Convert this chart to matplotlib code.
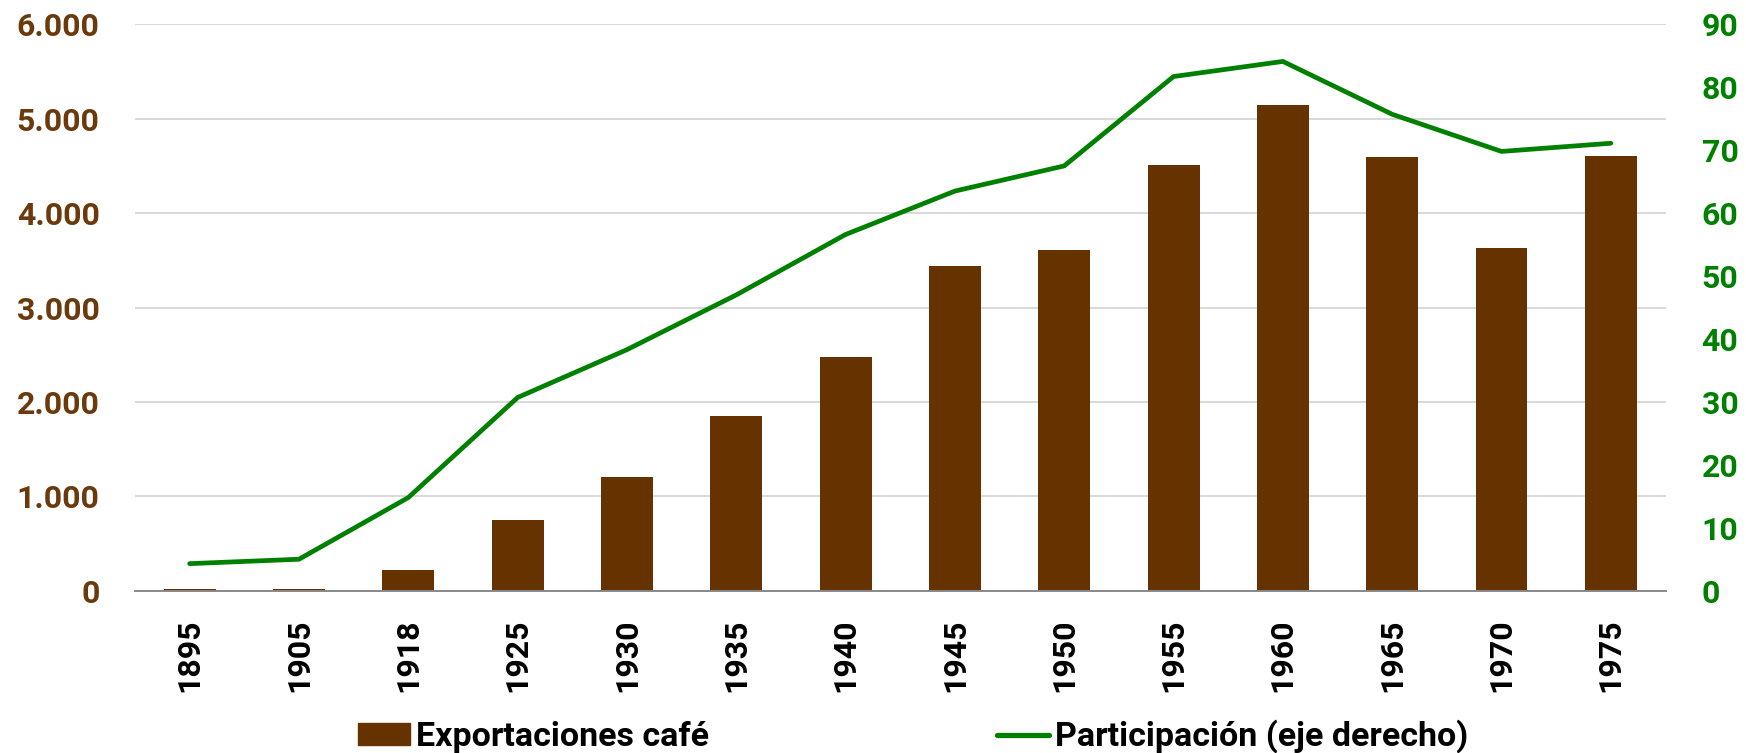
import matplotlib
matplotlib.use("Agg")
import matplotlib.pyplot as plt
from matplotlib.patches import Patch
from matplotlib.lines import Line2D
import numpy as np

plt.rcParams['font.family'] = ['Roboto', 'DejaVu Sans']
plt.rcParams['font.weight'] = 'bold'

years = ['1895', '1905', '1918', '1925', '1930', '1935', '1940', '1945',
         '1950', '1955', '1960', '1965', '1970', '1975']
exportaciones = [20, 20, 214, 752, 1205, 1855, 2473, 3435, 3608, 4509,
                 5150, 4591, 3630, 4601]
participacion = [4.3, 5.0, 14.8, 30.7, 38.3, 47.0, 56.6, 63.5, 67.5, 81.7,
                 84.1, 75.7, 69.8, 71.1]
left_ticks = [0, 1000, 2000, 3000, 4000, 5000, 6000]
left_labels = ['0', '1.000', '2.000', '3.000', '4.000', '5.000', '6.000']
right_ticks = [0, 10, 20, 30, 40, 50, 60, 70, 80, 90]

BROWN = '#663300'
GREEN = '#008000'
LABEL_BROWN = '#6b3a0c'

fig = plt.figure(figsize=(17.46, 7.53), dpi=100)
ax = fig.add_axes([135 / 1746, 1 - 590.7 / 753, (1665.5 - 135) / 1746, (590.7 - 24.3) / 753])
x = np.arange(len(years))

ax.bar(x, exportaciones, width=0.475, color=BROWN, zorder=2)
ax.set_xlim(-0.5, len(years) - 0.5)
ax.set_ylim(0, 6000)
ax.set_yticks(left_ticks)
ax.set_yticklabels(left_labels)
ax.set_xticks(x)
ax.set_xticklabels(years, rotation=90)
ax.grid(axis='y', color='#d9d9d9', linewidth=1.4, zorder=0)
ax.set_axisbelow(True)
for s in ['top', 'right', 'left']:
    ax.spines[s].set_visible(False)
ax.spines['bottom'].set_color('#898989')
ax.spines['bottom'].set_linewidth(1.4)
ax.tick_params(axis='y', length=0, pad=25.5, labelsize=23, labelcolor=LABEL_BROWN)
ax.tick_params(axis='x', length=0, pad=20, labelsize=23, labelcolor='black')
for t in ax.get_yticklabels() + ax.get_xticklabels():
    t.set_fontweight('bold')

ax2 = ax.twinx()
ax2.plot(x, participacion, color=GREEN, linewidth=3.4, solid_capstyle='round',
         solid_joinstyle='miter', zorder=3)
ax2.set_ylim(0, 90)
ax2.set_yticks(right_ticks)
for s in ['top', 'right', 'left', 'bottom']:
    ax2.spines[s].set_visible(False)
ax2.tick_params(axis='y', length=0, pad=26, labelsize=23, labelcolor=GREEN)
for t in ax2.get_yticklabels():
    t.set_fontweight('bold')

handles = [Patch(facecolor=BROWN, edgecolor=BROWN),
           Line2D([0], [0], color=GREEN, linewidth=3.8, solid_capstyle='round')]
fig.legend(handles, ['Exportaciones café', 'Participación (eje derecho)'],
           loc='center', bbox_to_anchor=(0.523, 0.022), ncol=2, frameon=False,
           prop={'size': 24.5, 'weight': 'bold'}, handlelength=1.53,
           handleheight=0.6, handletextpad=0.18, columnspacing=8.44,
           borderaxespad=0, borderpad=0)

fig.savefig('out.png', dpi=100)
